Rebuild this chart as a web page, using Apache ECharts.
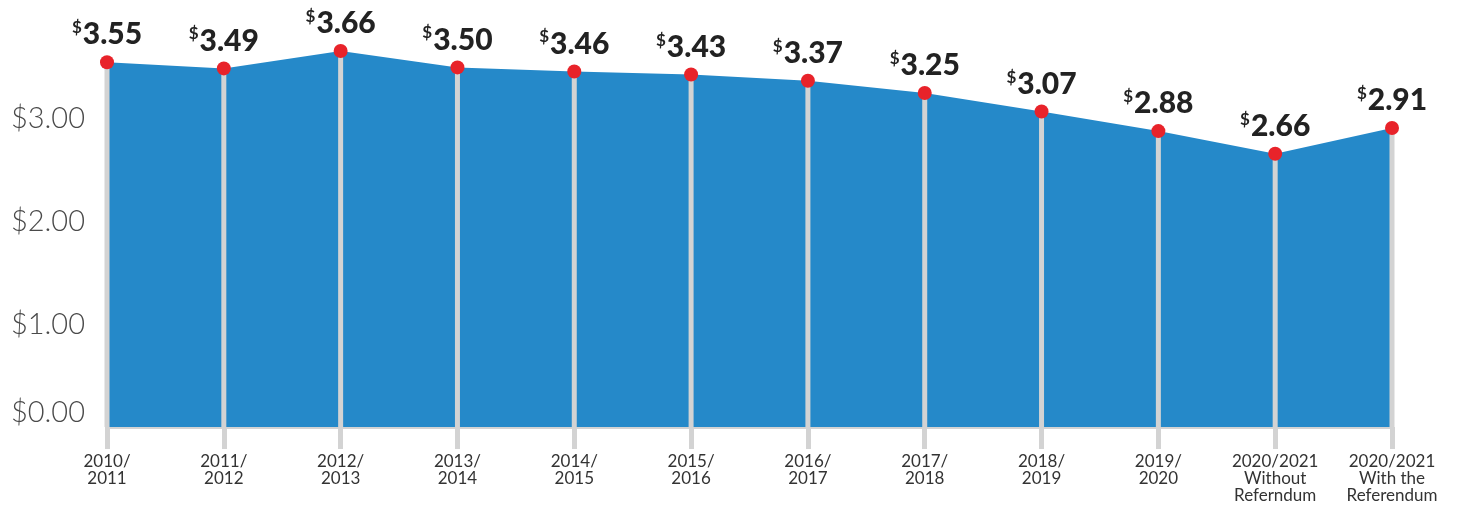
<!DOCTYPE html>
<html>
<head>
<meta charset="utf-8">
<script src="https://cdn.jsdelivr.net/npm/echarts@6/dist/echarts.min.js"></script>
<style>
  html,body{margin:0;padding:0;background:#fff}
  #box{width:1464px;height:508px}
</style>
</head>
<body>
<div id="box"></div>
<script>
  // 数据
  var years = ['2010/\n2011','2011/\n2012','2012/\n2013','2013/\n2014','2014/\n2015','2015/\n2016',
               '2016/\n2017','2017/\n2018','2018/\n2019','2019/\n2020',
               '2020/2021\nWithout\nReferndum','2020/2021\nWith the\nReferendum'];
  var rates = [3.55,3.49,3.66,3.50,3.46,3.43,3.37,3.25,3.07,2.88,2.66,2.91];
  var yTicks = [0,1,2,3];

  var myChart = echarts.init(document.getElementById('box'));
  var option = {
    backgroundColor: '#fff',
    animation: false,
    grid: {left: 107, right: 72, top: 16, bottom: 81},
    xAxis: {
      type: 'category',
      boundaryGap: false,
      data: years,
      axisLine: {lineStyle: {color: '#d3d3d3', width: 3}},
      axisTick: {length: 22, lineStyle: {color: '#d3d3d3', width: 5}},
      axisLabel: {
        margin: 26,
        interval: 0,
        color: '#333',
        fontFamily: 'Lato',
        fontSize: 17,
        lineHeight: 17
      }
    },
    yAxis: {
      type: 'value',
      min: 0,
      max: 4,
      interval: 1,
      splitLine: {show: false},
      axisLine: {show: false},
      axisTick: {show: false},
      axisLabel: {
        margin: 22,
        color: '#4a4a4a',
        fontFamily: 'Lato',
        fontWeight: 300,
        fontSize: 29,
        formatter: function (v) {
          if (yTicks.indexOf(v) < 0) return '';
          if (v === 0) return '{z|$0.00}';
          return '$' + v.toFixed(2);
        },
        rich: {
          z: {fontFamily: 'Lato', fontWeight: 300, fontSize: 29, color: '#4a4a4a', padding: [0, 0, 28, 0]}
        }
      }
    },
    series: [
      {
        type: 'line',
        data: rates,
        z: 1,
        symbol: 'none',
        lineStyle: {width: 0},
        areaStyle: {color: '#2589c9', opacity: 1}
      },
      {
        type: 'bar',
        data: rates,
        z: 2,
        barWidth: 5,
        itemStyle: {color: '#d3d3d3'}
      },
      {
        type: 'line',
        data: rates,
        z: 3,
        symbol: 'circle',
        symbolSize: 14,
        lineStyle: {width: 0},
        itemStyle: {color: '#e8232a'},
        label: {
          show: true,
          position: 'top',
          distance: 5,
          formatter: function (p) { return '{s|$}{v|' + p.value.toFixed(2) + '}'; },
          rich: {
            s: {fontFamily: 'Lato', fontWeight: 'bold', fontSize: 17, color: '#222', verticalAlign: 'top', padding: [0, 1, 14, 0]},
            v: {fontFamily: 'Lato', fontWeight: 900, fontSize: 30, color: '#222'}
          }
        }
      }
    ]
  };
  myChart.setOption(option);
</script>
</body>
</html>
